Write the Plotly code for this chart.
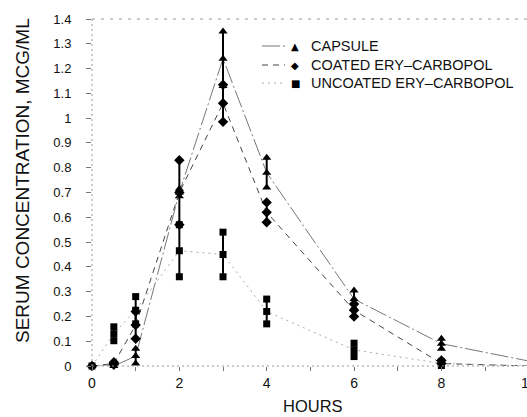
import plotly.graph_objects as go

# Sampling times (hours)
hours = [0, 0.5, 1, 2, 3, 4, 6, 8, 10]

# Mean serum concentration (mcg/mL) and standard error for each formulation
capsule_mean = [0.0, 0.0, 0.04, 0.70, 1.24, 0.78, 0.27, 0.09, 0.02]
capsule_se = [0.0, 0.0, 0.03, 0.015, 0.11, 0.06, 0.035, 0.02, 0.0]

coated_mean = [0.0, 0.01, 0.165, 0.70, 1.06, 0.62, 0.225, 0.01, 0.0]
coated_se = [0.0, 0.005, 0.055, 0.13, 0.075, 0.04, 0.025, 0.012, 0.0]

uncoated_mean = [0.0, 0.13, 0.225, 0.465, 0.45, 0.22, 0.065, 0.01, 0.0]
uncoated_se = [0.0, 0.028, 0.055, 0.105, 0.09, 0.05, 0.027, 0.008, 0.0]

series_names = ["CAPSULE", "COATED ERY\u2013CARBOPOL", "UNCOATED ERY\u2013CARBOPOL"]

y_tick_vals = [0, 0.1, 0.2, 0.3, 0.4, 0.5, 0.6, 0.7, 0.8, 0.9, 1.0, 1.1, 1.2, 1.3, 1.4]
y_tick_text = ["0", "0.1", "0.2", "0.3", "0.4", "0.5", "0.6", "0.7", "0.8", "0.9",
               "1", "1.1", "1.2", "1.3", "1.4"]
x_tick_vals = [0, 1, 2, 3, 4, 5, 6, 7, 8, 9]
x_tick_text = ["0", "", "2", "", "4", "", "6", "", "8", ""]

FONT = "Liberation Sans"
W, H = 527, 417
L, R, T, B = 92, 0, 19, 51
X_MAX = 9.96
PW, PH = W - L - R, H - T - B


def px_to_paper(px, py):
    return (px - L) / PW, (H - B - py) / PH


styles = [
    dict(symbol="triangle-up", size=8, line=dict(color="#777", width=1, dash="18px,3px,2px,3px")),
    dict(symbol="diamond", size=8, line=dict(color="#444", width=1, dash="6px,5px")),
    dict(symbol="square", size=7, line=dict(color="#aaa", width=1, dash="2px,4px")),
]
data = [(capsule_mean, capsule_se), (coated_mean, coated_se), (uncoated_mean, uncoated_se)]

fig = go.Figure()

for (mean, se), st, name in zip(data, styles, series_names):
    # connecting line through the means
    fig.add_trace(go.Scatter(
        x=hours, y=mean, mode="lines", line=st["line"], showlegend=False,
        hoverinfo="skip", name=name,
    ))
    # mean markers with vertical error bars
    fig.add_trace(go.Scatter(
        x=hours, y=mean, mode="markers", name=name, showlegend=False,
        marker=dict(symbol=st["symbol"], size=st["size"], color="black"),
        error_y=dict(type="data", array=se, arrayminus=se, visible=True,
                     thickness=2, width=0, color="black"),
        cliponaxis=False,
    ))
    # markers at the ends of each error bar
    ex, ey = [], []
    for h, m, s in zip(hours, mean, se):
        if s > 0:
            ex += [h, h]
            ey += [m + s, m - s]
    fig.add_trace(go.Scatter(
        x=ex, y=ey, mode="markers", showlegend=False, hoverinfo="skip",
        marker=dict(symbol=st["symbol"], size=st["size"], color="black"),
        cliponaxis=False,
    ))

shapes = []
# faint frame lines (left, bottom, top)
frame = dict(color="#9a9a9a", width=1, dash="2px,3px")
shapes.append(dict(type="line", xref="paper", yref="paper", x0=0, x1=0, y0=0, y1=1, line=frame))
shapes.append(dict(type="line", xref="paper", yref="paper", x0=0, x1=1, y0=0, y1=0, line=frame))
shapes.append(dict(type="line", xref="paper", yref="paper", x0=0, x1=1, y0=1, y1=1,
                   line=dict(color="#9a9a9a", width=1, dash="3px,6px")))

annotations = []
# legend drawn by hand: line sample, marker glyph, label
glyphs = ["\u25b2", "\u25c6", "\u25a0"]
rows_py = [46, 65, 83]
for st, g, name, py in zip(styles, glyphs, series_names, rows_py):
    x0, yy = px_to_paper(262, py)
    x1, _ = px_to_paper(285, py)
    shapes.append(dict(type="line", xref="paper", yref="paper", x0=x0, x1=x1, y0=yy, y1=yy,
                       line=st["line"]))
    gx, _ = px_to_paper(295, py)
    annotations.append(dict(xref="paper", yref="paper", x=gx, y=yy, text=g, showarrow=False,
                            xanchor="center", yanchor="middle",
                            font=dict(family="DejaVu Sans", size=10, color="black")))
    tx, _ = px_to_paper(309, py)
    annotations.append(dict(xref="paper", yref="paper", x=tx, y=yy, text=name, showarrow=False,
                            xanchor="left", yanchor="middle",
                            font=dict(family=FONT, size=14.5, color="#111")))

# axis titles
ax_, ay_ = px_to_paper(22, 181)
annotations.append(dict(xref="paper", yref="paper", x=ax_, y=ay_, text="SERUM CONCENTRATION, MCG/ML",
                        textangle=-90, showarrow=False, xanchor="center", yanchor="middle",
                        font=dict(family=FONT, size=19, color="#111")))
hx, hy = px_to_paper(313, 406)
annotations.append(dict(xref="paper", yref="paper", x=hx, y=hy, text="HOURS", showarrow=False,
                        xanchor="center", yanchor="middle",
                        font=dict(family=FONT, size=16.5, color="#111")))
# last x tick label sits at the right edge of the axis
_, ty10 = px_to_paper(0, 383)
annotations.append(dict(xref="paper", yref="paper", x=10 / X_MAX, y=ty10, text="10", showarrow=False,
                        xanchor="center", yanchor="middle",
                        font=dict(family=FONT, size=14, color="#111")))

fig.update_layout(
    width=W, height=H,
    margin=dict(l=L, r=R, t=T, b=B, pad=0),
    paper_bgcolor="white", plot_bgcolor="white",
    showlegend=False,
    shapes=shapes, annotations=annotations,
    xaxis=dict(range=[0, X_MAX], tickvals=x_tick_vals, ticktext=x_tick_text,
               ticks="outside", ticklen=4, tickcolor="#777", tickwidth=1,
               showgrid=False, zeroline=False, showline=False,
               tickfont=dict(family=FONT, size=14, color="#111")),
    yaxis=dict(range=[0, 1.4], tickvals=y_tick_vals, ticktext=y_tick_text,
               ticks="outside", ticklen=5, tickcolor="#777", tickwidth=1,
               ticklabelstandoff=12,
               showgrid=False, zeroline=False, showline=False,
               tickfont=dict(family=FONT, size=13, color="#111")),
)

fig.write_html("out.html")
